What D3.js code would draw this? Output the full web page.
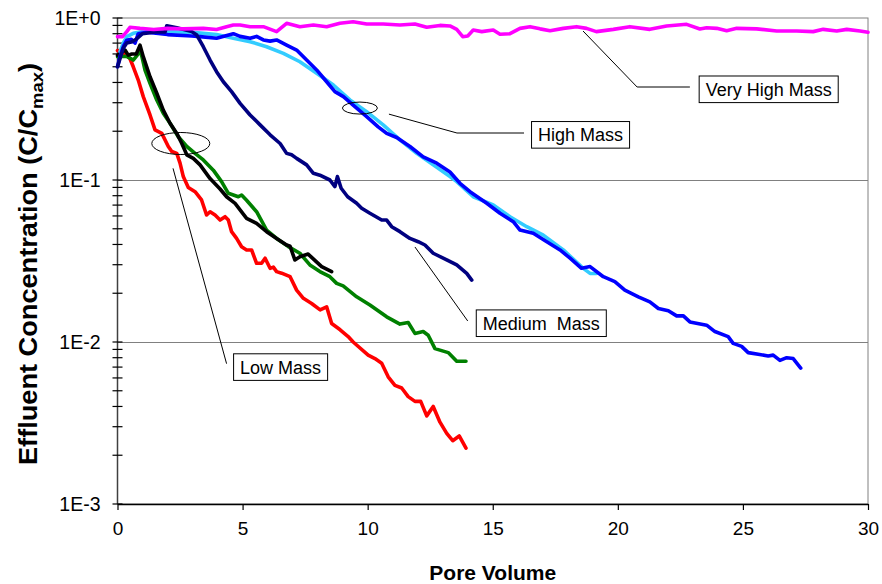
<!DOCTYPE html>
<html><head><meta charset="utf-8">
<script src="https://cdn.jsdelivr.net/npm/d3@7"></script>
<style>
body{margin:0;background:#fff}
svg{display:block}
text{font-family:Arial,"Liberation Sans",sans-serif;fill:#000}
</style>
</head><body>
<svg id="chart" width="882" height="584"></svg>
<script>
// ---------- data ----------
const xTickValues = [0, 5, 10, 15, 20, 25, 30];
const yTickValues = [1, 0.1, 0.01, 0.001];
const yTickLabels = ["1E+0", "1E-1", "1E-2", "1E-3"];
const xTitle = "Pore Volume";
const yTitleMain = "Effluent Concentration (C/C";
const yTitleSub = "max";

// Low mass, replicate A (red)
const lowMassRed = [[0,0.63],[0.3,0.6],[0.5,0.56],[0.63,0.5],[0.83,0.414],[1.03,0.327],[1.3,0.252],[1.5,0.204],[1.77,0.194],[2.03,0.161],[2.17,0.15],[2.37,0.146],[2.5,0.127],[2.63,0.105],[2.83,0.09],[3.1,0.0847],[3.36,0.0753],[3.56,0.0608],[3.7,0.0637],[3.9,0.0608],[4.1,0.0566],[4.3,0.0594],[4.43,0.0566],[4.56,0.048],[4.76,0.0436],[4.96,0.0387],[5.16,0.037],[5.36,0.037],[5.56,0.0306],[5.76,0.0306],[5.9,0.0329],[6.1,0.0285],[6.23,0.029],[6.36,0.0272],[6.56,0.0266],[6.9,0.0253],[7.16,0.0209],[7.43,0.0186],[7.76,0.0173],[8.1,0.0158],[8.36,0.0165],[8.56,0.013],[8.9,0.0119],[9.22,0.0108],[9.42,0.01],[10.02,0.0083],[10.29,0.0079],[10.56,0.0074],[10.82,0.0061],[11.09,0.0054],[11.36,0.0052],[11.62,0.0046],[11.89,0.0043],[12.12,0.0043],[12.36,0.0035],[12.62,0.004],[12.89,0.0032],[13.16,0.00273],[13.4,0.00246],[13.66,0.00263],[13.93,0.00221]];
// Low mass, replicate B (green)
const lowMassGreen = [[0,0.577],[0.37,0.58],[0.63,0.55],[0.83,0.6],[0.93,0.62],[1.1,0.477],[1.3,0.395],[1.57,0.312],[1.83,0.258],[2.1,0.224],[2.43,0.185],[2.77,0.161],[3.1,0.146],[3.43,0.133],[3.83,0.115],[4.16,0.0977],[4.43,0.0828],[4.83,0.0788],[4.96,0.0808],[5.16,0.075],[5.56,0.0637],[5.96,0.0491],[6.36,0.0436],[6.83,0.0388],[7.29,0.0353],[7.69,0.0299],[8.09,0.0272],[8.49,0.0253],[8.76,0.023],[9.02,0.0222],[9.56,0.019],[10.09,0.0169],[10.76,0.0143],[11.29,0.0129],[11.62,0.0132],[11.89,0.0113],[12.22,0.0116],[12.42,0.011],[12.69,0.0091],[13.22,0.0086],[13.56,0.0076],[13.93,0.0076]];
// Low mass, replicate C (black)
const lowMassBlack = [[0,0.59],[0.3,0.634],[0.43,0.59],[0.57,0.6],[0.75,0.6],[0.9,0.68],[1.03,0.577],[1.3,0.434],[1.57,0.343],[1.83,0.27],[2.1,0.224],[2.37,0.194],[2.57,0.168],[2.77,0.143],[3.03,0.136],[3.3,0.124],[3.7,0.102],[4.1,0.088],[4.36,0.0788],[4.7,0.0718],[5.16,0.058],[5.56,0.054],[5.96,0.048],[6.36,0.0436],[6.76,0.0397],[6.9,0.039],[7.09,0.0321],[7.29,0.0336],[7.62,0.0349],[8.16,0.0292],[8.56,0.0272]];
// Medium mass (navy)
const mediumMass = [[0,0.5],[0.1,0.56],[0.23,0.65],[0.37,0.7],[0.55,0.71],[0.75,0.74],[1.0,0.8],[1.5,0.82],[1.9,0.82],[1.97,0.896],[2.37,0.87],[2.97,0.824],[3.17,0.785],[3.43,0.665],[3.7,0.55],[3.96,0.466],[4.23,0.404],[4.56,0.351],[4.9,0.297],[5.3,0.252],[5.7,0.219],[6.1,0.19],[6.5,0.168],[6.76,0.146],[6.96,0.143],[7.16,0.136],[7.56,0.124],[7.83,0.11],[8.09,0.107],[8.49,0.1],[8.69,0.091],[8.79,0.105],[8.94,0.0889],[9.2,0.0788],[9.56,0.0718],[9.76,0.0669],[10.09,0.0623],[10.56,0.0566],[10.76,0.0566],[10.96,0.0515],[11.29,0.048],[11.69,0.0436],[12.02,0.0416],[12.29,0.0397],[12.62,0.0353],[13.16,0.0321],[13.56,0.0299],[13.96,0.0265],[14.16,0.0241]];
// High mass, replicate A (blue)
const highMassBlue = [[0,0.5],[0.1,0.58],[0.23,0.665],[0.37,0.73],[0.55,0.74],[0.7,0.7],[0.83,0.8],[1.17,0.816],[2.0,0.79],[2.97,0.775],[3.3,0.767],[3.96,0.75],[4.63,0.8],[4.9,0.77],[5.3,0.75],[5.56,0.77],[5.83,0.732],[6.1,0.72],[6.36,0.732],[6.76,0.681],[7.16,0.634],[7.56,0.55],[7.96,0.478],[8.36,0.404],[8.69,0.351],[9.03,0.327],[9.42,0.29],[9.96,0.246],[10.42,0.213],[10.76,0.194],[11.16,0.183],[11.69,0.161],[12.22,0.139],[12.76,0.127],[13.29,0.112],[13.69,0.0954],[14.09,0.0847],[14.76,0.0718],[15.29,0.0623],[15.82,0.0553],[16.09,0.0491],[16.62,0.0469],[17.16,0.0416],[17.69,0.037],[18.09,0.0329],[18.55,0.0285],[18.89,0.0292],[19.42,0.0253],[19.88,0.0236],[20.28,0.0209],[20.82,0.019],[21.28,0.0177],[21.62,0.0161],[22.02,0.0156],[22.35,0.0145],[22.62,0.0145],[22.88,0.0133],[23.55,0.0127],[23.88,0.0116],[24.41,0.0108],[24.61,0.0098],[24.95,0.0094],[25.21,0.0086],[25.61,0.0084],[26.01,0.0082],[26.21,0.0083],[26.48,0.0077],[26.75,0.008],[27.01,0.0079],[27.31,0.0069]];
// High mass, replicate B (light blue)
const highMassCyan = [[0.1,0.62],[0.23,0.7],[0.37,0.767],[0.63,0.804],[1.03,0.824],[2.0,0.824],[3.0,0.815],[3.96,0.79],[4.63,0.749],[5.3,0.714],[5.96,0.665],[6.63,0.605],[7.29,0.537],[7.96,0.456],[8.63,0.386],[9.29,0.312],[9.96,0.264],[10.62,0.219],[11.29,0.177],[11.96,0.146],[12.62,0.124],[13.29,0.105],[13.56,0.0977],[14.22,0.0788],[15.02,0.0702],[15.69,0.0593],[16.36,0.0515],[17.02,0.0457],[17.82,0.037],[18.62,0.0285],[18.89,0.0265],[19.15,0.0265]];
// Very high mass (magenta)
const veryHighMass = [[0,0.767],[0.2,0.767],[0.37,0.824],[0.5,0.876],[0.9,0.863],[1.45,0.85],[2.0,0.863],[2.63,0.857],[3.43,0.863],[3.96,0.85],[4.36,0.884],[4.63,0.905],[4.9,0.905],[5.3,0.884],[5.83,0.884],[6.36,0.824],[6.76,0.927],[7.29,0.884],[7.83,0.905],[8.36,0.884],[8.89,0.927],[9.42,0.949],[9.96,0.918],[10.62,0.918],[11.29,0.905],[11.89,0.918],[12.36,0.876],[12.89,0.9],[13.29,0.893],[13.56,0.85],[13.8,0.767],[14.0,0.775],[14.22,0.843],[14.56,0.824],[15.02,0.843],[15.29,0.793],[15.69,0.8],[16.09,0.863],[16.49,0.884],[16.89,0.857],[17.29,0.835],[17.82,0.863],[18.35,0.884],[18.75,0.863],[19.14,0.824],[19.82,0.851],[20.48,0.884],[21.28,0.851],[21.95,0.893],[22.75,0.914],[23.28,0.855],[23.55,0.87],[23.95,0.863],[24.35,0.835],[24.75,0.863],[25.55,0.857],[26.35,0.831],[27.15,0.831],[27.81,0.824],[28.21,0.851],[28.75,0.831],[29.15,0.851],[29.68,0.831],[30,0.816]];

const seriesNames = ["Low Mass (red)","Low Mass (green)","Low Mass (black)","High Mass (light blue)","High Mass (blue)","Medium Mass","Very High Mass"];
const seriesData = [lowMassRed, lowMassGreen, lowMassBlack, highMassCyan, highMassBlue, mediumMass, veryHighMass];
const seriesColors = ["#FF0000","#008000","#000000","#33CCFF","#0000FF","#000080","#FF00FF"];

// annotation labels, anchored in data coordinates
const annotationLabels = ["Low Mass", "Medium  Mass", "High Mass", "Very High Mass"];
const annotationBoxAt = [[6.52,0.0070],[16.94,0.01306],[18.51,0.19],[26.03,0.363]];
const annotationLeaders = [
  [[2.22,0.118],[4.36,0.00735]],
  [[11.89,0.0386],[14.0,0.01348]],
  [[10.85,0.255],[13.57,0.195],[16.25,0.195]],
  [[18.61,0.831],[20.77,0.375],[22.88,0.375]]
];
const ellipseCenters = [[2.53,0.168],[9.69,0.278]];

// ---------- layout ----------
const W = 882, H = 584;
const m = {left:117.5, right:868, top:18, bottom:504};
const svg = d3.select("#chart");
const x = d3.scaleLinear().domain([0,30]).range([m.left, m.right]);
const y = d3.scaleLog().domain([0.001,1]).range([m.bottom, m.top]);

// plot frame (gray)
svg.append("rect").attr("x",m.left).attr("y",m.top)
  .attr("width",m.right-m.left).attr("height",m.bottom-m.top)
  .attr("fill","none").attr("stroke","#808080").attr("stroke-width",1);

// horizontal grid lines at decades
svg.append("g").selectAll("line").data(yTickValues.filter(v=>v<1 && v>0.001)).join("line")
  .attr("x1",m.left).attr("x2",m.right)
  .attr("y1",d=>Math.round(y(d))+0.5).attr("y2",d=>Math.round(y(d))+0.5)
  .attr("stroke","#808080").attr("stroke-width",1);

// y axis with minor ticks (cross ticks)
const minorVals = [];
[0.001,0.01,0.1].forEach(b=>{ for(let k=2;k<=9;k++) minorVals.push(b*k); });
const yAxisG = svg.append("g");
yAxisG.append("line").attr("x1",m.left).attr("x2",m.left).attr("y1",m.top).attr("y2",m.bottom)
  .attr("stroke","#404040").attr("stroke-width",1.5);
yAxisG.selectAll("line.minor").data(minorVals.concat(yTickValues)).join("line").attr("class","minor")
  .attr("x1",m.left-5).attr("x2",m.left+5)
  .attr("y1",d=>y(d)).attr("y2",d=>y(d))
  .attr("stroke","#000").attr("stroke-width",1.2);
yAxisG.selectAll("text").data(yTickValues).join("text")
  .attr("x",m.left-17).attr("y",d=>y(d)).attr("dy","0.36em")
  .attr("text-anchor","end").attr("font-size",19.5)
  .text((d,i)=>yTickLabels[i]);

// x axis
const xAxis = d3.axisBottom(x).tickValues(xTickValues).tickSize(6).tickSizeOuter(0).tickFormat(d3.format("d"));
const xg = svg.append("g").attr("transform",`translate(0,${m.bottom})`).call(xAxis);
xg.select(".domain").attr("stroke","#000").attr("stroke-width",1.5);
xg.selectAll(".tick line").attr("stroke","#000").attr("stroke-width",1.2);
xg.selectAll(".tick text").attr("font-size",19).attr("font-family","Arial, 'Liberation Sans', sans-serif").attr("y",18).attr("dy","0.71em").attr("fill","#000");

// axis titles
svg.append("text").attr("x",(m.left+m.right)/2).attr("y",580)
  .attr("text-anchor","middle").attr("font-size",21).attr("font-weight","bold").text(xTitle);
const yt = svg.append("text").attr("transform",`translate(37,${(m.top+m.bottom)/2+3}) rotate(-90)`)
  .attr("text-anchor","middle").attr("font-size",25).attr("font-weight","bold")
  .attr("textLength",402).attr("lengthAdjust","spacingAndGlyphs");
yt.append("tspan").text(yTitleMain);
yt.append("tspan").attr("font-size",17).attr("dy",6).text(yTitleSub);
yt.append("tspan").attr("dy",-6).text(")");

// series lines
const line = d3.line().x(d=>x(d[0])).y(d=>y(d[1]));
svg.append("g").selectAll("path").data(seriesData).join("path")
  .attr("d",line).attr("fill","none")
  .attr("stroke",(d,i)=>seriesColors[i]).attr("stroke-width",3.6)
  .attr("stroke-linejoin","round").attr("stroke-linecap","round");

// annotations
const ag = svg.append("g");
const ellipseR = [[29,11],[17.5,6]];
ag.selectAll("ellipse").data(ellipseCenters).join("ellipse")
  .attr("cx",d=>x(d[0])).attr("cy",d=>y(d[1]))
  .attr("rx",(d,i)=>ellipseR[i][0]).attr("ry",(d,i)=>ellipseR[i][1])
  .attr("fill","none").attr("stroke","#000").attr("stroke-width",1);
const leaderLine = d3.line().x(d=>x(d[0])).y(d=>y(d[1]));
ag.selectAll("path.leader").data(annotationLeaders).join("path").attr("class","leader")
  .attr("d",leaderLine).attr("fill","none").attr("stroke","#000").attr("stroke-width",1);
annotationLabels.forEach((lab,i)=>{
  const cx = x(annotationBoxAt[i][0]), cy = y(annotationBoxAt[i][1]);
  const g = ag.append("g");
  const r = g.append("rect");
  const t = g.append("text").attr("x",cx).attr("y",cy).attr("dy","0.36em")
    .attr("text-anchor","middle").attr("font-size",18).style("white-space","pre").text(lab);
  const w = t.node().getComputedTextLength() + 13;
  r.attr("x",cx-w/2).attr("y",cy-13.3).attr("width",w).attr("height",26.6)
    .attr("fill","#fff").attr("stroke","#000").attr("stroke-width",1);
});
</script>
</body></html>
